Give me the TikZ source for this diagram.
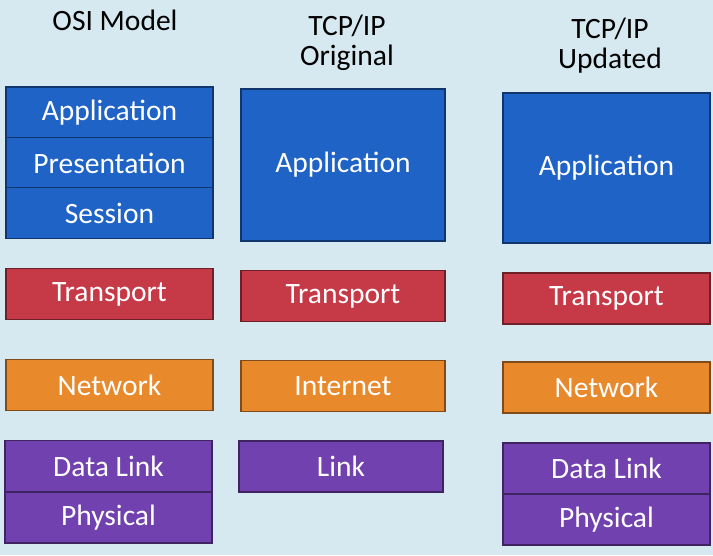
\documentclass[tikz,border=0pt]{standalone}
\usepackage{fontspec}
\setmainfont{Carlito}
\usepackage{xcolor}
\usepackage{tikz}
\usetikzlibrary{positioning}
\definecolor{layblue}{HTML}{1F63C6}
\definecolor{layred}{HTML}{C63A48}
\definecolor{layorange}{HTML}{E8892C}
\definecolor{laypurple}{HTML}{7241B0}
\definecolor{slidebg}{HTML}{D6E8F0}

\begin{document}
\begin{tikzpicture}[
    x=0.025cm, y=-0.025cm,
    layer/.style={rectangle, draw=#1!55!black, line width=0.9pt, fill=#1, minimum width=5.17cm, minimum height=1.27cm, inner sep=0pt, text=white, font=\fontsize{21}{22}\selectfont},
    head/.style={align=center, text=black, font=\fontsize{21}{21.5}\selectfont}
]
    % Background
    \fill[slidebg] (0,0) rectangle (713,555);
    \useasboundingbox (0,0) rectangle (713,555);

    % Headings
    \node[head] (osihead) at (115,20) {OSI Model};
    \node[head] (orighead) at (347,43) {TCP/IP\\Original};
    \node[head] (updhead) at (610,46) {TCP/IP\\Updated};

    % OSI model
    \node[layer=layblue] (osiapp) at (109.5,112.5) {Application};
    \node[layer=layblue] (osipres) at (109.5,163) {Presentation};
    \node[layer=layblue] (osisess) at (109.5,213) {Session};
    \node[layer=layred] (ositrans) at (109.5,294) {Transport};
    \node[layer=layorange] (osinet) at (109.5,385) {Network};
    \node[layer=laypurple] (osidl) at (108.5,466) {Data Link};
    \node[layer=laypurple] (osiphy) at (108.5,517.5) {Physical};

    % TCP/IP original
    \node[layer=layblue, minimum width=5.1cm, minimum height=3.8cm] (origapp) at (343,165) {Application};
    \node[layer=layred, minimum width=5.1cm] (origtrans) at (343,296) {Transport};
    \node[layer=layorange, minimum width=5.1cm] (originet) at (343,386) {Internet};
    \node[layer=laypurple, minimum width=5.1cm] (origlink) at (341,466.5) {Link};

    % TCP/IP updated
    \node[layer=layblue, minimum height=3.75cm] (updapp) at (606.5,168) {Application};
    \node[layer=layred] (updtrans) at (606.5,298.5) {Transport};
    \node[layer=layorange] (updnet) at (606.5,387.5) {Network};
    \node[layer=laypurple] (upddl) at (606.5,468.5) {Data Link};
    \node[layer=laypurple] (updphy) at (606.5,519.5) {Physical};
\end{tikzpicture}
\end{document}
